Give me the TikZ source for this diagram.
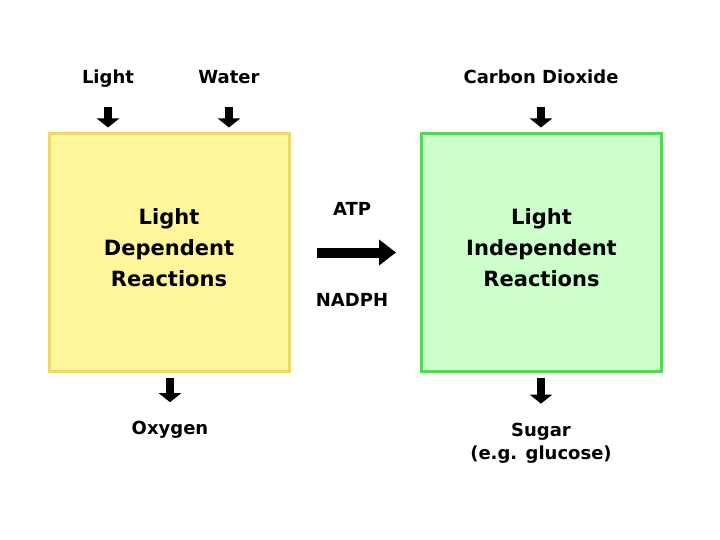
\documentclass[tikz,border=0pt]{standalone}
\usepackage{fontspec}
\setmainfont{DejaVu Sans}
\usetikzlibrary{arrows.meta,positioning}
\definecolor{lemon}{HTML}{FFF59A}
\definecolor{lemonedge}{HTML}{EED868}
\definecolor{mint}{HTML}{CCFFCC}
\definecolor{mintedge}{HTML}{55D855}
\tikzset{
  stagebox/.style n args={2}{
    rectangle, draw=#1, fill=#2, line width=3pt,
    minimum width=240pt, minimum height=237pt,
    inner sep=0pt
  },
  stagetext/.style={font=\fontsize{21}{31}\selectfont\bfseries, align=center,
    inner sep=0pt},
  inlabel/.style={font=\fontsize{18}{23}\selectfont\bfseries, align=center,
    inner sep=2pt},
  inarrow/.style={-{Triangle[length=9pt,width=22pt]}, line width=7.5pt},
  bigarrow/.style={-{Triangle[length=17pt,width=25pt]}, line width=10pt},
}
\begin{document}
\begin{tikzpicture}[x=1pt,y=-1pt]
\useasboundingbox (0,0) rectangle (720,540);

\node[stagebox={lemonedge}{lemon}] (ldr) at (169,252.5) {};
\node[stagetext] (ldrtext) at ([yshift=5pt]ldr.center) {Light\\Dependent\\Reactions};
\node[stagebox={mintedge}{mint}] (lir) at (541.5,252.5) {};
\node[stagetext] (lirtext) at ([yshift=5pt]lir.center) {Light\\Independent\\Reactions};

\node[inlabel, anchor=base] (light) at (108,84) {Light};
\node[inlabel, anchor=base] (water) at (229,84) {Water};
\node[inlabel, anchor=base] (co2) at (541,84) {Carbon Dioxide};

\node[inlabel] (atp) at (352,209) {ATP};
\node[inlabel] (nadph) at (352,300) {NADPH};

\node[inlabel] (oxygen) at (170,430) {Oxygen};
\node[inlabel] (sugar) at (541,443) {Sugar\\(e.g. glucose)};

% inputs
\draw[inarrow, shorten <=23pt, shorten >=5pt] (light.base) -- (light |- ldr.north);
\draw[inarrow, shorten <=23pt, shorten >=5pt] (water.base) -- (water |- ldr.north);
\draw[inarrow, shorten <=23pt, shorten >=5pt] (co2.base) -- (co2 |- lir.north);
% ATP / NADPH
\draw[bigarrow, shorten <=26pt, shorten >=24pt] (ldr) -- (lir);
% outputs
\draw[inarrow, shorten <=5pt, shorten >=17pt] (oxygen |- ldr.south) -- (oxygen);
\draw[inarrow, shorten <=5pt, shorten >=17pt] (sugar |- lir.south) -- (sugar);

\end{tikzpicture}
\end{document}
